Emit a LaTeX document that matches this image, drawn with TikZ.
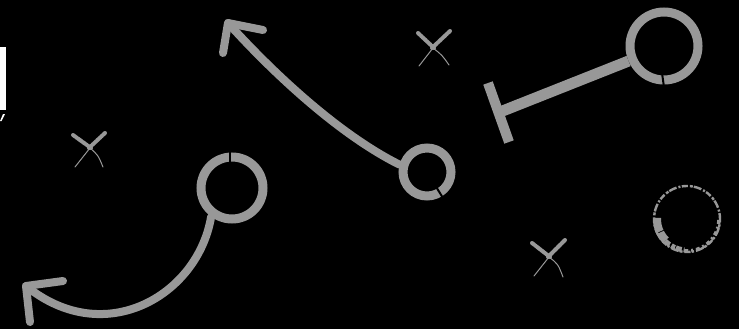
\documentclass[tikz,border=0pt]{standalone}
\definecolor{chalk}{RGB}{152,152,152}
\begin{document}
\begin{tikzpicture}[x=1pt,y=-1pt,
  ring/.style={circle,draw=chalk,line width=9pt,inner sep=0pt},
  stroke/.style={draw=chalk,line width=8pt,line cap=round,line join=round},
  gap/.style={draw=black,line width=2pt},
  chalkthick/.style={draw=chalk,line width=4pt,line cap=round,dash pattern=on 3pt off 1pt on 1pt off 1pt on 5pt off 1pt},
  chalkthin/.style={draw=chalk,line width=1pt,line cap=round}]
\fill[black] (0,0) rectangle (739,329);
\useasboundingbox (0,0) rectangle (739,329);
% cut-off white fragment at the left edge
\node[fill=white,inner sep=0pt,minimum width=6pt,minimum height=63pt] (bar) at (3,78.5) {};
\fill[white] (0,121) -- (3,114) -- (5,114) -- (1.5,121) -- cycle;

% circles
\node[ring,minimum size=62pt] (a) at (232,188) {};
\draw[gap] (230,151) -- (230,165);
\node[ring,minimum size=48pt] (b) at (427,172) {};
\draw[gap] (436.5,187.5) -- (443,198);
\node[ring,minimum size=68pt] (c) at (664,46) {};
\draw[gap] (662,73) -- (664,87);

% arrow from a
\coordinate (tipA) at (26,286);
\coordinate (armA1) at (63,281);
\coordinate (armA2) at (30,322);
\draw[stroke] (a.234) .. controls (198,295) and (105,350) .. (tipA);
\draw[stroke] (armA1) -- (tipA) -- (armA2);

% arrow from b
\coordinate (tipB) at (228,23);
\coordinate (armB1) at (263,30);
\coordinate (armB2) at (223,53);
\draw[stroke] (b.165) .. controls (340,135) and (275,75) .. (tipB);
\draw[stroke] (armB1) -- (tipB) -- (armB2);

% T block from c
\coordinate (t1) at (488,83);
\coordinate (t2) at (509,142);
\coordinate (tm) at (500,112);
\draw[stroke,line width=11pt,line cap=butt] (c.203) -- (tm);
\draw[stroke,line width=10pt,line cap=butt] (t1) -- (t2);

% X marks
\draw[chalkthick] (73,135) -- (91,148);
\draw[chalkthick] (105,133) -- (89,148);
\draw[chalkthin] (90,148) -- (75,167);
\draw[chalkthin] (90,148) .. controls (98,155) .. (103,167);

\draw[chalkthick] (418,33) -- (434,48);
\draw[chalkthick] (450,31) -- (432,48);
\draw[chalkthin] (433,48) -- (419,66);
\draw[chalkthin] (433,48) .. controls (442,55) .. (449,65);

\draw[chalkthick] (532,243) -- (550,257);
\draw[chalkthick] (565,240) -- (548,257);
\draw[chalkthin] (549,257) -- (534,276);
\draw[chalkthin] (549,257) .. controls (558,264) .. (563,277);

% rough chalk circle
\node[circle,draw=chalk,line width=2.4pt,inner sep=0pt,minimum size=66pt,
      dash pattern=on 6pt off 1.5pt on 2pt off 2pt on 8pt off 1pt on 3pt off 2pt] (r) at (687,219) {};
\draw[chalk,line width=8pt,dash pattern=on 14pt off 1pt on 10pt off 1pt] (r.center) ++(182:30) arc[start angle=182, end angle=135, radius=30];
\draw[chalk,line width=5pt,dash pattern=on 6pt off 2pt on 4pt off 1pt] (r.center) ++(135:31) arc[start angle=135, end angle=95, radius=31];
\draw[chalk,line width=3.5pt,dash pattern=on 4pt off 3pt on 2pt off 3pt] (r.center) ++(95:32) arc[start angle=95, end angle=0, radius=32];
\end{tikzpicture}
\end{document}
